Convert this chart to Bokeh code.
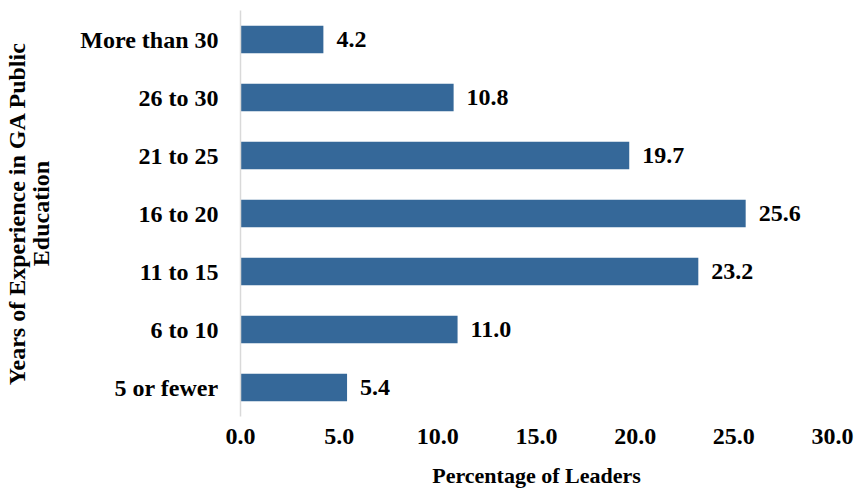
from bokeh.plotting import figure
from bokeh.models import ColumnDataSource, FixedTicker, CustomJSTickFormatter, LabelSet, Title
from bokeh.core.properties import value
from bokeh.embed import file_html
from bokeh.resources import INLINE

# Years of experience groups, bottom to top
categories = ["5 or fewer", "6 to 10", "11 to 15", "16 to 20", "21 to 25", "26 to 30", "More than 30"]
percentages = [5.4, 11.0, 23.2, 25.6, 19.7, 10.8, 4.2]
x_ticks = [0, 5, 10, 15, 20, 25, 30]

FONT = "Liberation Serif"
BAR = "#356899"
FS = "24px"

source = ColumnDataSource(dict(
    cat=categories,
    pct=percentages,
    lbl=[f"{v:.1f}" for v in percentages],
))

p = figure(
    width=859, height=498,
    y_range=categories, x_range=(0, 30),
    output_backend="svg", toolbar_location=None,
    min_border_left=0, min_border_right=27, min_border_top=10, min_border_bottom=0,
)

p.hbar(y="cat", right="pct", left=0, height=0.47, source=source,
       fill_color=BAR, line_color=None)

p.add_layout(LabelSet(
    x="pct", y="cat", text="lbl", source=source,
    x_offset=13, y_offset=0,
    text_font=value(FONT), text_font_style="bold", text_font_size=FS,
    text_baseline="middle", text_color="#000000",
))

p.outline_line_color = None
p.grid.grid_line_color = None
p.background_fill_color = "white"
p.border_fill_color = "white"

# x axis
p.xaxis.ticker = FixedTicker(ticks=x_ticks)
p.xaxis.formatter = CustomJSTickFormatter(code="return tick.toFixed(1);")
p.xaxis.axis_line_color = None
p.xaxis.major_tick_line_color = None
p.xaxis.minor_tick_line_color = None
p.xaxis.major_tick_out = 0
p.xaxis.major_tick_in = 0
p.xaxis.major_label_standoff = 12
p.xaxis.major_label_text_font = FONT
p.xaxis.major_label_text_font_style = "bold"
p.xaxis.major_label_text_font_size = FS
p.xaxis.major_label_text_color = "#000000"
p.xaxis.axis_label = "Percentage of Leaders"
p.xaxis.axis_label_text_font = FONT
p.xaxis.axis_label_text_font_style = "bold"
p.xaxis.axis_label_text_font_size = "22px"
p.xaxis.axis_label_text_color = "#000000"
p.xaxis.axis_label_standoff = 16

# blank strip under the x axis title
p.add_layout(Title(text=" ", text_font_size="1px", standoff=5), "below")

# y axis
p.yaxis.axis_line_color = "#d9d9d9"
p.yaxis.axis_line_width = 1.5
p.yaxis.major_tick_line_color = None
p.yaxis.minor_tick_line_color = None
p.yaxis.major_tick_out = 0
p.yaxis.major_tick_in = 0
p.yaxis.major_label_standoff = 22
p.yaxis.major_label_text_font = FONT
p.yaxis.major_label_text_font_style = "bold"
p.yaxis.major_label_text_font_size = FS
p.yaxis.major_label_text_color = "#000000"
p.yaxis.axis_label = "Years of Experience in GA Public\nEducation"
p.yaxis.axis_label_text_font = FONT
p.yaxis.axis_label_text_font_style = "bold"
p.yaxis.axis_label_text_font_size = "24px"
p.yaxis.axis_label_text_color = "#000000"
p.yaxis.axis_label_text_line_height = 0.95
p.yaxis.axis_label_standoff = 23

p.y_range.range_padding = 0

open("out.html", "w").write(file_html(p, INLINE))
